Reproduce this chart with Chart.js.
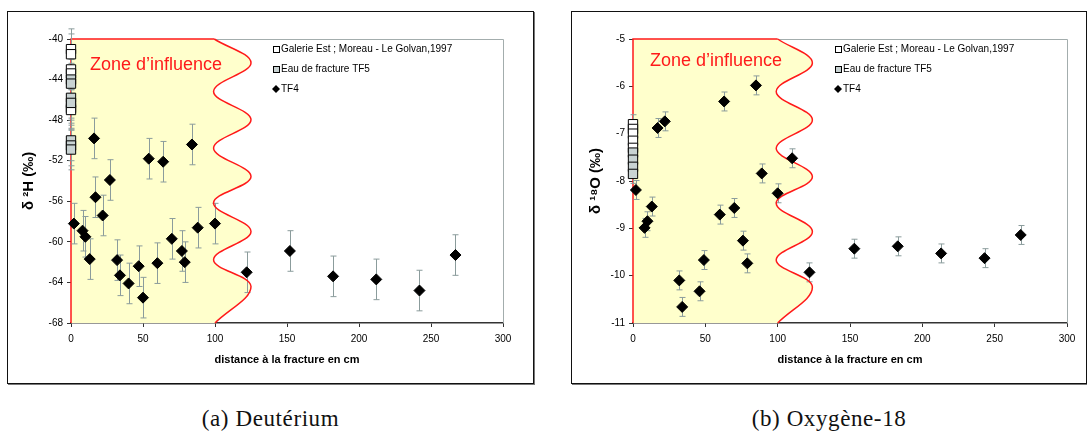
<!DOCTYPE html>
<html lang="fr">
<head>
<meta charset="utf-8">
<title>Deutérium et Oxygène-18</title>
<script src="https://cdn.jsdelivr.net/npm/chart.js@4.4.0/dist/chart.umd.min.js"></script>
<style>
    html, body { margin: 0; padding: 0; background: #fff; overflow: hidden; }
    body { width: 1087px; height: 435px; position: relative; }
    .cadre { position: absolute; top: 11px; height: 373px; border: 1px solid #111; box-sizing: border-box; box-shadow: 1px 1px 0 #777; }
    canvas { position: absolute; top: 11px; }
    .sous-titre { position: absolute; top: 405px; font-family: 'Liberation Serif', 'DejaVu Serif', serif; font-size: 23px; letter-spacing: 0.6px; line-height: 28px; text-align: center; color: #111; }
</style>
</head>
<body>
<div class="cadre" style="left:7px;width:527px"></div>
<div class="cadre" style="left:571px;width:516px"></div>
<canvas id="chart-d" width="526" height="373" style="left:7px"></canvas>
<canvas id="chart-o" width="526" height="373" style="left:571px"></canvas>
<div class="sous-titre" style="left:7px;width:527px">(a) Deutérium</div>
<div class="sous-titre" style="left:571px;width:516px">(b) Oxygène-18</div>

<script>
// Données
const legendLabels = ['Galerie Est ; Moreau - Le Golvan,1997', 'Eau de fracture TF5', 'TF4'];

// Deutérium (TF4)
const distD = [2, 8, 10, 13, 16, 17, 22, 27, 32, 34, 40, 47, 50, 54, 60, 64, 70, 77, 79, 84, 88, 100, 122, 152, 182, 212, 242, 267];
const deltaD = [-58.2, -58.9, -59.5, -61.7, -49.8, -55.6, -57.4, -53.9, -61.8, -63.3, -64.1, -62.4, -65.5, -51.8, -62.1, -52.1, -59.7, -60.9, -62.0, -50.4, -58.6, -58.2, -63.0, -60.9, -63.4, -63.7, -64.8, -61.3];
const errD = 2;
// valeurs à distance 0
const galerieD = [-41.0, -41.5, -43.0, -43.4, -46.8, -47.0];
const fractureD = [-44.0, -44.4, -45.8, -46.3, -50.0, -50.5, -50.9];
// limite ondulée de la zone d'influence
const waveDx = [99.5, 125, 99, 125, 99, 125, 99, 125, 99, 125, 100];
const waveDy = [-40, -42.37, -45.17, -47.96, -50.75, -53.55, -56.17, -58.97, -61.77, -64.4, -68];
const ticksD = { min: -68, max: -40, step: 4 };

// Oxygène-18 (TF4)
const distO = [2, 8, 10, 13, 17, 22, 32, 34, 46, 49, 60, 63, 70, 76, 79, 85, 89, 100, 110, 122, 153, 183, 213, 243, 268];
const deltaO = [-8.19, -8.99, -8.85, -8.54, -6.88, -6.74, -10.1, -10.66, -10.33, -9.67, -8.71, -6.32, -8.57, -9.26, -9.74, -5.98, -7.84, -8.26, -7.52, -9.93, -9.43, -9.38, -9.53, -9.63, -9.14];
const errO = 0.2;
const galerieO = [-6.8, -6.9, -7.0, -7.15, -7.3];
const fractureO = [-7.4, -7.55, -7.7, -7.85];
const waveOx = [100, 124, 99, 124, 99, 124, 99, 124, 99, 124, 100];
const waveOy = [-5, -5.51, -6.11, -6.71, -7.31, -7.91, -8.47, -9.07, -9.67, -10.24, -11];
const ticksO = { min: -11, max: -5, step: 1 };

const distX = { min: 0, max: 300, step: 50 };

Chart.defaults.font.family = "'Liberation Sans', Arial, sans-serif";
Chart.defaults.color = '#000';

const RED = '#ff1a1a';
const ZONE_FILL = '#ffffcc';
const ERR_COLOR = '#8b9c9c';

function toPoints(xs, ys) {
    return ys.map((y, i) => ({ x: xs[i], y: y }));
}

// Fond jaune, contour rouge, cadre gris, barres d'erreur
const decorPlugin = {
    id: 'decor',
    beforeDatasetsDraw(chart) {
        const ctx = chart.ctx;
        const area = chart.chartArea;
        const xs = chart.scales.x;
        const ys = chart.scales.y;
        const waveIndex = chart.data.datasets.findIndex(d => d.isWave);
        const pts = chart.getDatasetMeta(waveIndex).data;
        const x0 = xs.getPixelForValue(0);

        ctx.save();
        // zone d'influence
        ctx.beginPath();
        ctx.moveTo(x0, area.bottom);
        ctx.lineTo(x0, area.top);
        ctx.lineTo(pts[0].x, pts[0].y);
        for (let i = 1; i < pts.length; i++) {
            const a = pts[i - 1], b = pts[i];
            ctx.bezierCurveTo(a.cp2x, a.cp2y, b.cp1x, b.cp1y, b.x, b.y);
        }
        ctx.lineTo(x0, area.bottom);
        ctx.closePath();
        ctx.fillStyle = ZONE_FILL;
        ctx.fill();

        // cadre gris haut et droite
        ctx.strokeStyle = '#a3adad';
        ctx.lineWidth = 1;
        ctx.beginPath();
        ctx.moveTo(pts[0].x, area.top + 0.5);
        ctx.lineTo(area.right + 0.5, area.top + 0.5);
        ctx.lineTo(area.right + 0.5, area.bottom);
        ctx.stroke();

        // contour rouge gauche et haut
        ctx.strokeStyle = RED;
        ctx.lineWidth = 1.5;
        ctx.beginPath();
        ctx.moveTo(x0, area.bottom);
        ctx.lineTo(x0, area.top);
        ctx.lineTo(pts[0].x, pts[0].y);
        ctx.stroke();

        // texte de la zone
        const opts = chart.options.plugins.decor;
        ctx.fillStyle = RED;
        ctx.font = "18px 'Liberation Sans', Arial, sans-serif";
        ctx.textBaseline = 'middle';
        ctx.fillText('Zone d\u2019influence', area.left + opts.labelDx, area.top + opts.labelDy);

        // barres d'erreur
        ctx.strokeStyle = ERR_COLOR;
        ctx.lineWidth = 1;
        chart.data.datasets.forEach(ds => {
            if (!ds.err) return;
            ds.data.forEach(p => {
                const px = Math.round(xs.getPixelForValue(p.x)) + 0.5;
                const top = ys.getPixelForValue(p.y + ds.err);
                const bot = ys.getPixelForValue(p.y - ds.err);
                ctx.beginPath();
                ctx.moveTo(px, top);
                ctx.lineTo(px, bot);
                ctx.moveTo(px - 3, top);
                ctx.lineTo(px + 3, top);
                ctx.moveTo(px - 3, bot);
                ctx.lineTo(px + 3, bot);
                ctx.stroke();
            });
        });
        ctx.restore();
    },
    afterDatasetsDraw(chart) {
        // légende dans la zone de tracé
        const ctx = chart.ctx;
        const area = chart.chartArea;
        const mx = area.left + 205;
        const tx = area.left + 210;
        const fills = ['#ffffff', '#c9d3d3'];
        ctx.save();
        ctx.font = "10px 'Liberation Sans', Arial, sans-serif";
        ctx.textBaseline = 'middle';
        legendLabels.forEach((label, i) => {
            const y = area.top + 10 + i * 20;
            ctx.lineWidth = 1;
            ctx.strokeStyle = '#000';
            if (i < 2) {
                ctx.fillStyle = fills[i];
                ctx.fillRect(mx - 3, y - 3, 6, 6);
                ctx.strokeRect(mx - 3 + 0.5, y - 3 + 0.5, 6, 6);
            } else {
                ctx.fillStyle = '#000';
                ctx.beginPath();
                ctx.moveTo(mx - 4, y);
                ctx.lineTo(mx, y - 4);
                ctx.lineTo(mx + 4, y);
                ctx.lineTo(mx, y + 4);
                ctx.closePath();
                ctx.fill();
            }
            ctx.fillStyle = '#000';
            ctx.fillText(label, tx, y + 0.5);
        });
        ctx.restore();
    }
};

function createChart(id, p) {
    const ctx = document.getElementById(id).getContext('2d');
    return new Chart(ctx, {
        type: 'scatter',
        data: {
            datasets: [
                {
                    label: legendLabels[2],
                    data: toPoints(p.dist, p.delta),
                    pointStyle: 'rectRot',
                    pointRadius: 5.5,
                    backgroundColor: '#000',
                    borderColor: '#000',
                    borderWidth: 1,
                    err: p.err,
                    clip: false
                },
                {
                    label: legendLabels[1],
                    data: p.fracture.map(v => ({ x: 0, y: v })),
                    pointStyle: 'rect',
                    pointRadius: 6.6,
                    backgroundColor: '#c9d3d3',
                    borderColor: '#000',
                    borderWidth: 1,
                    err: p.err,
                    clip: false
                },
                {
                    label: legendLabels[0],
                    data: p.galerie.map(v => ({ x: 0, y: v })),
                    pointStyle: 'rect',
                    pointRadius: 6.6,
                    backgroundColor: '#ffffff',
                    borderColor: '#000',
                    borderWidth: 1,
                    err: p.err,
                    clip: false
                },
                {
                    label: 'limite',
                    type: 'line',
                    isWave: true,
                    data: toPoints(p.waveX, p.waveY),
                    showLine: true,
                    borderColor: RED,
                    borderWidth: 1.5,
                    pointRadius: 0,
                    tension: 0.38,
                    fill: false,
                    clip: false
                }
            ]
        },
        options: {
            responsive: false,
            animation: false,
            events: [],
            layout: { padding: { top: 28, right: 30, left: 0, bottom: 0 } },
            plugins: {
                legend: { display: false },
                tooltip: { enabled: false },
                decor: { labelDx: p.labelDx, labelDy: p.labelDy }
            },
            scales: {
                x: {
                    type: 'linear',
                    min: distX.min,
                    max: distX.max,
                    ticks: { stepSize: distX.step, font: { size: 10 }, padding: 6, color: '#000' },
                    grid: { drawOnChartArea: false, tickLength: 4, color: '#333' },
                    border: { color: '#333', width: 1.5 },
                    title: {
                        display: true,
                        text: 'distance à la fracture en cm',
                        font: { size: 11, weight: 'bold' },
                        color: '#000',
                        padding: { top: 0, bottom: 17 }
                    },
                    afterFit: s => { s.height = 61; }
                },
                y: {
                    min: p.ticks.min,
                    max: p.ticks.max,
                    ticks: { stepSize: p.ticks.step, font: { size: 10 }, padding: 4, color: '#000' },
                    grid: { drawOnChartArea: false, tickLength: 4, color: '#333' },
                    border: { display: false },
                    title: {
                        display: true,
                        text: p.titleY,
                        font: { size: 15, weight: 'bold' },
                        color: '#000',
                        padding: { top: p.titlePad, bottom: 0 }
                    },
                    afterFit: s => { s.width = p.axisWidth; }
                }
            }
        },
        plugins: [decorPlugin]
    });
}

document.addEventListener('DOMContentLoaded', () => {
    createChart('chart-d', {
        dist: distD, delta: deltaD, err: errD,
        galerie: galerieD, fracture: fractureD,
        waveX: waveDx, waveY: waveDy,
        ticks: ticksD,
        titleY: 'δ ²H (‰)',
        titlePad: 13, axisWidth: 64,
        labelDx: 19, labelDy: 26
    });
    createChart('chart-o', {
        dist: distO, delta: deltaO, err: errO,
        galerie: galerieO, fracture: fractureO,
        waveX: waveOx, waveY: waveOy,
        ticks: ticksO,
        titleY: 'δ ¹⁸O (‰)',
        titlePad: 16, axisWidth: 62,
        labelDx: 17, labelDy: 22
    });
});
</script>
</body>
</html>
